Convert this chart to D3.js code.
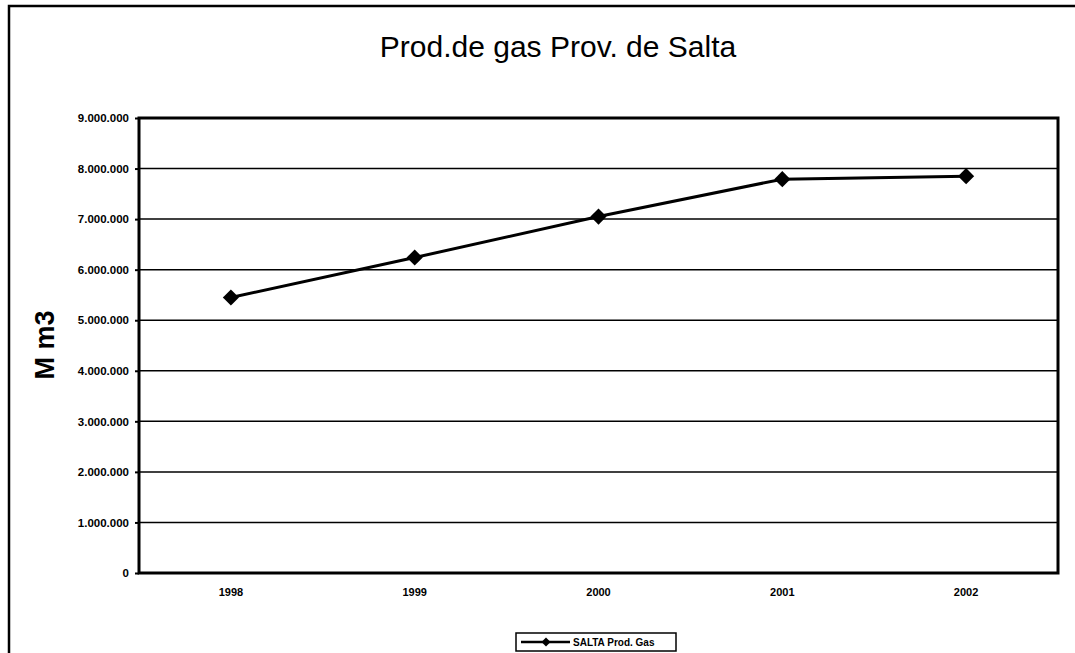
<!DOCTYPE html>
<html>
<head>
<meta charset="utf-8">
<script src="https://cdn.jsdelivr.net/npm/d3@7"></script>
<style>
  body { margin: 0; background: #fff; }
  text { font-family: "Liberation Sans", Arial, sans-serif; }
</style>
</head>
<body>
<svg class="chart" width="1075" height="653"></svg>
<script>
let years = ["1998", "1999", "2000", "2001", "2002"];
let gasValues = [5450000, 6240000, 7050000, 7790000, 7850000];
let yTicks = [0, 1000000, 2000000, 3000000, 4000000, 5000000, 6000000, 7000000, 8000000, 9000000];
let seriesName = "SALTA Prod. Gas";

function drawChart(svgClass) {
  let svg = d3.select(svgClass);

  let left = 139, right = 1058, top = 118, bottom = 573;

  // outer frame
  svg.append("rect")
    .attr("x", 9).attr("y", 6)
    .attr("width", 1075).attr("height", 700)
    .attr("fill", "none").attr("stroke", "#000").attr("stroke-width", 2.5);

  // title
  svg.append("text")
    .attr("x", 558).attr("y", 57)
    .attr("text-anchor", "middle")
    .style("font-size", "30px")
    .text("Prod.de gas Prov. de Salta");

  let xScale = d3.scaleBand()
    .range([left, right])
    .domain(years);

  let yScale = d3.scaleLinear()
    .range([bottom, top])
    .domain([0, 9000000]);

  // gridlines
  svg.append("g")
    .selectAll("line")
    .data(yTicks.slice(1))
    .enter()
    .append("line")
    .attr("x1", left).attr("x2", right)
    .attr("y1", d => yScale(d)).attr("y2", d => yScale(d))
    .attr("stroke", "#000").attr("stroke-width", 1.5);

  // plot border
  svg.append("rect")
    .attr("x", left).attr("y", top)
    .attr("width", right - left).attr("height", bottom - top)
    .attr("fill", "none").attr("stroke", "#000").attr("stroke-width", 3);

  // y axis
  svg.append("g")
    .attr("transform", "translate(" + left + ",0)")
    .call(d3.axisLeft(yScale).tickValues(yTicks).tickSize(4).tickPadding(6)
      .tickFormat(d => d3.format(",")(d).replace(/,/g, ".")))
    .call(g => g.select(".domain").remove())
    .call(g => g.selectAll("line").attr("stroke-width", 2))
    .selectAll("text")
    .style("font-size", "11.5px")
    .style("font-weight", "bold");

  // x axis
  svg.append("g")
    .attr("transform", "translate(0," + bottom + ")")
    .call(d3.axisBottom(xScale).tickSize(0).tickPadding(15))
    .call(g => g.select(".domain").remove())
    .selectAll("text")
    .style("font-size", "11px")
    .style("font-weight", "bold");

  // y axis title
  svg.append("text")
    .attr("transform", "translate(54,345)rotate(-90)")
    .attr("text-anchor", "middle")
    .style("font-size", "27px")
    .style("font-weight", "bold")
    .text("M m3");

  // line
  let line = d3.line()
    .x((d, i) => xScale(years[i]) + xScale.bandwidth() / 2)
    .y(d => yScale(d));

  svg.append("path")
    .datum(gasValues)
    .attr("d", line)
    .attr("fill", "none").attr("stroke", "#000").attr("stroke-width", 3);

  let diamond = d3.symbol().type(d3.symbolSquare).size(130);

  svg.selectAll("marker-pt")
    .data(gasValues)
    .enter()
    .append("path")
    .attr("d", diamond)
    .attr("transform", (d, i) => "translate(" + (xScale(years[i]) + xScale.bandwidth() / 2) + "," + yScale(d) + ")rotate(45)")
    .attr("fill", "#000");

  // legend
  let lg = svg.append("g").attr("transform", "translate(516,633)");
  lg.append("rect")
    .attr("width", 160).attr("height", 18)
    .attr("fill", "#fff").attr("stroke", "#000").attr("stroke-width", 1.5);
  lg.append("line")
    .attr("x1", 5).attr("x2", 54).attr("y1", 9).attr("y2", 9)
    .attr("stroke", "#000").attr("stroke-width", 2.5);
  lg.append("path")
    .attr("d", d3.symbol().type(d3.symbolSquare).size(40))
    .attr("transform", "translate(30,9)rotate(45)");
  lg.append("text")
    .attr("x", 57).attr("y", 13)
    .style("font-size", "10px")
    .style("font-weight", "bold")
    .text(seriesName);
}

drawChart(".chart");
</script>
</body>
</html>
